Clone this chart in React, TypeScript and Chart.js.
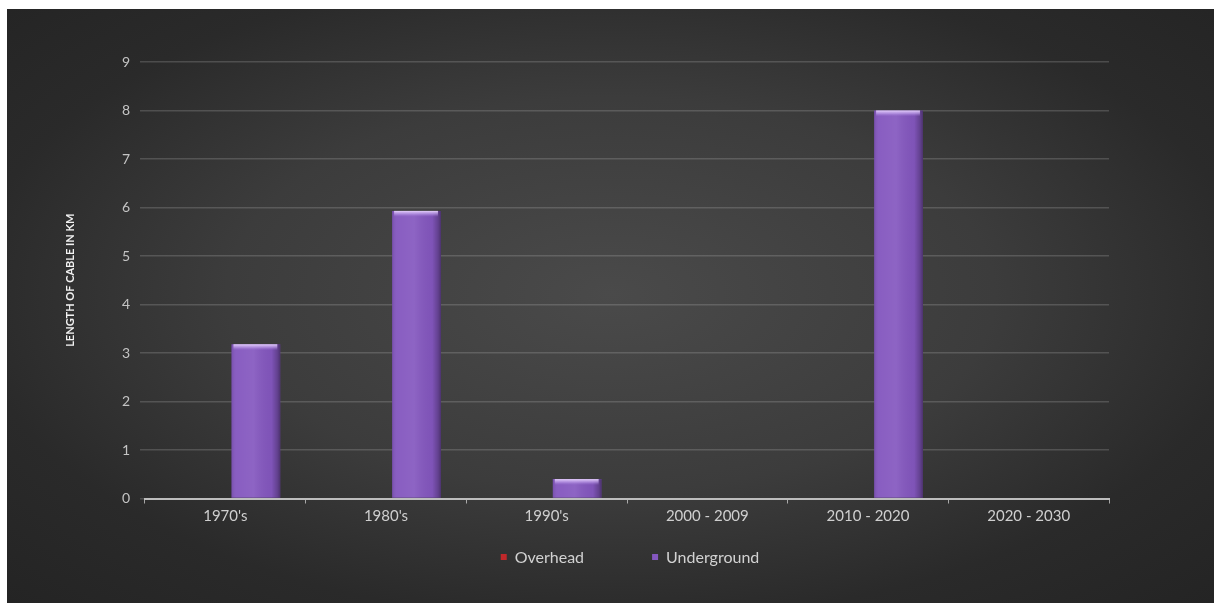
import React, { useEffect, useRef } from "react";
import { Chart, registerables } from "chart.js";

Chart.register(...registerables);

// Decades along the x axis
const categories = ["1970's", "1980's", "1990's", "2000 - 2009", "2010 - 2020", "2020 - 2030"];
// Cable length laid per decade (km)
const overheadKm = [0, 0, 0, 0, 0, 0];
const undergroundKm = [3.18, 5.93, 0.4, 0, 8.0, 0];
const yTicks = [0, 1, 2, 3, 4, 5, 6, 7, 8, 9];

const FONT = "Lato, 'Open Sans', 'DejaVu Sans', sans-serif";
const OVERHEAD_COLOR = "#c0282a";
const UNDERGROUND_COLOR = "#8457bf";

// Gives the bars a glossy, rounded look: side shading plus a light cap on top.
const barShadePlugin = {
  id: "barShade",
  afterDatasetsDraw(chart: any) {
    const ctx = chart.ctx;
    chart.data.datasets.forEach((ds: any, di: number) => {
      const meta = chart.getDatasetMeta(di);
      if (meta.hidden) return;
      meta.data.forEach((bar: any) => {
        const { x, y, base, width } = bar.getProps(["x", "y", "base", "width"], true);
        const h = base - y;
        if (h < 0.5) return;
        const l = x - width / 2;
        const r = x + width / 2;
        ctx.save();
        const g = ctx.createLinearGradient(l, 0, r, 0);
        g.addColorStop(0, "rgba(0,0,0,0.10)");
        g.addColorStop(0.1, "rgba(255,255,255,0.04)");
        g.addColorStop(0.45, "rgba(255,255,255,0.08)");
        g.addColorStop(0.82, "rgba(0,0,0,0.04)");
        g.addColorStop(0.94, "rgba(0,0,0,0.25)");
        g.addColorStop(1, "rgba(0,0,0,0.42)");
        ctx.fillStyle = g;
        ctx.fillRect(l, y, width, h);
        // light cap
        const capH = Math.min(6, h);
        const cg = ctx.createLinearGradient(0, y, 0, y + capH);
        cg.addColorStop(0, "rgba(235,215,255,0.95)");
        cg.addColorStop(0.5, "rgba(200,170,240,0.6)");
        cg.addColorStop(1, "rgba(160,120,215,0)");
        ctx.fillStyle = cg;
        ctx.fillRect(l + 2, y, width - 5, capH);
        ctx.restore();
      });
    });
  },
};

// Legend row under the axis, centred on the plot area.
const legendPlugin = {
  id: "bottomLegend",
  afterDraw(chart: any) {
    const ctx = chart.ctx;
    const area = chart.chartArea;
    const items = chart.data.datasets.map((d: any) => ({ label: d.label, color: d.backgroundColor }));
    ctx.save();
    ctx.font = `16px ${FONT}`;
    ctx.textBaseline = "middle";
    const marker = 6;
    const gapMarker = 8;
    const gapItem = 68;
    const widths = items.map((it: any) => marker + gapMarker + ctx.measureText(it.label).width);
    const total = widths.reduce((a: number, b: number) => a + b, 0) + gapItem * (items.length - 1);
    let x = (area.left + area.right) / 2 - total / 2 + 3;
    const y = 549;
    items.forEach((it: any, i: number) => {
      ctx.fillStyle = it.color;
      ctx.fillRect(x, y - marker / 2 - 1, marker, marker);
      ctx.fillStyle = "#d2d2d2";
      ctx.fillText(it.label, x + marker + gapMarker, y);
      x += widths[i] + gapItem;
    });
    ctx.restore();
  },
};

function CableChart() {
  const canvasRef = useRef<HTMLCanvasElement | null>(null);

  useEffect(() => {
    const canvas = canvasRef.current;
    if (!canvas) return;
    const chart = new Chart(canvas, {
      type: "bar",
      data: {
        labels: categories,
        datasets: [
          {
            label: "Overhead",
            data: overheadKm,
            backgroundColor: OVERHEAD_COLOR,
            borderWidth: 0,
          },
          {
            label: "Underground",
            data: undergroundKm,
            backgroundColor: UNDERGROUND_COLOR,
            borderWidth: 0,
          },
        ],
      },
      options: {
        animation: false,
        responsive: false,
        maintainAspectRatio: false,
        layout: { padding: { left: 0, right: 105, top: 53, bottom: 64.5 } },
        datasets: {
          bar: { categoryPercentage: 0.76, barPercentage: 0.8 },
        },
        plugins: {
          legend: { display: false },
          tooltip: { enabled: false },
        },
        scales: {
          x: {
            grid: {
              display: true,
              drawOnChartArea: false,
              drawTicks: true,
              tickLength: 5,
              color: "rgba(220,220,220,0.7)",
              offset: true,
            },
            border: { display: true, color: "#bdbdbd", width: 2 },
            ticks: {
              color: "#cfcfcf",
              font: { family: FONT, size: 15 },
              padding: 4,
              maxRotation: 0,
            },
            afterFit(scale: any) {
              scale.height = 40;
            },
          },
          y: {
            min: 0,
            max: 9,
            afterBuildTicks(scale: any) {
              scale.ticks = yTicks.map((v) => ({ value: v }));
            },
            grid: {
              color: "rgba(200,200,200,0.22)",
              lineWidth: 1.5,
              drawTicks: true,
              tickLength: 5,
            },
            border: { display: false },
            ticks: {
              color: "#c4c4c4",
              font: { family: FONT, size: 14 },
              padding: 10,
            },
            title: {
              display: true,
              text: "LENGTH OF CABLE IN KM",
              color: "#f2f2f2",
              font: { family: FONT, size: 11, weight: "bold" },
              padding: { top: 57, bottom: 0 },
            },
            afterFit(scale: any) {
              scale.width = 138;
            },
          },
        },
      },
      plugins: [barShadePlugin, legendPlugin],
    });
    return () => chart.destroy();
  }, []);

  return <canvas ref={canvasRef} width={1207} height={594} style={{ display: "block" }} />;
}

export default function App() {
  return (
    <div
      style={{
        position: "absolute",
        left: 0,
        top: 0,
        width: 1214,
        height: 603,
        background: "#ffffff",
        overflow: "hidden",
      }}
    >
      <div
        style={{
          position: "absolute",
          left: 7,
          top: 9,
          width: 1207,
          height: 594,
          background:
            "radial-gradient(ellipse farthest-corner at 50% 48%, #4a4a4a 0%, #3c3c3c 45%, #2a2a2a 75%, #242424 100%)",
        }}
      >
        <CableChart />
      </div>
    </div>
  );
}
